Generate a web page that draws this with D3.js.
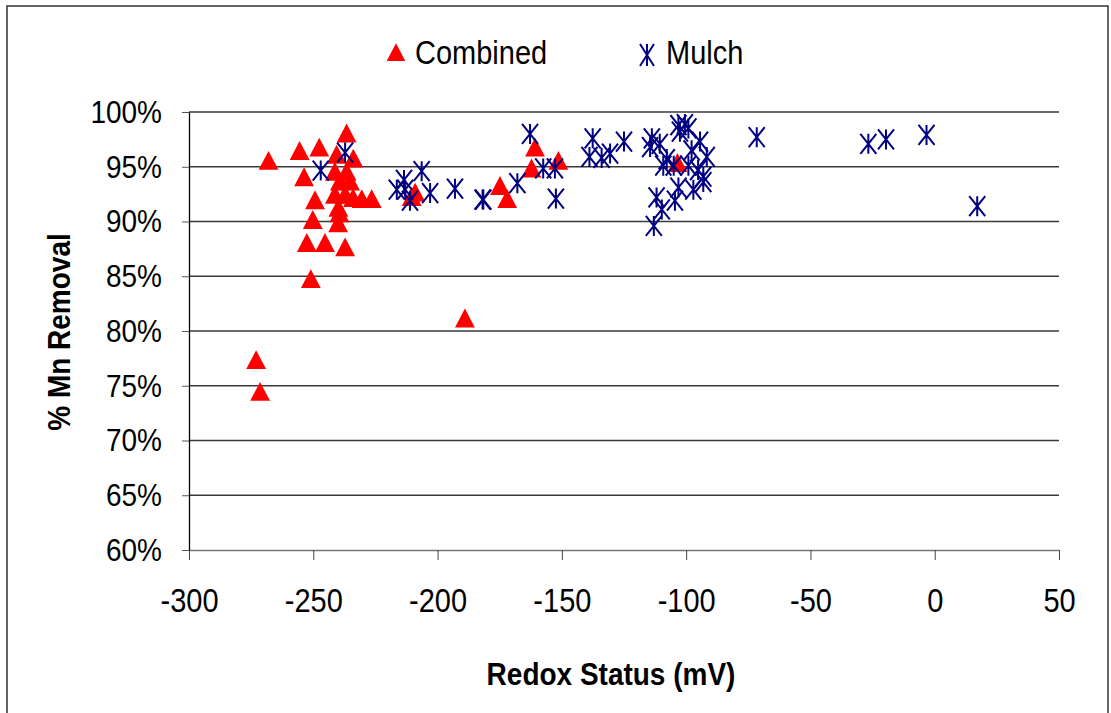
<!DOCTYPE html>
<html>
<head>
<meta charset="utf-8">
<script src="https://cdn.jsdelivr.net/npm/d3@7"></script>
<style>
  body { margin: 0; background: #fff; }
  text { font-family: "Liberation Sans", Arial, sans-serif; }
</style>
</head>
<body>
<div id="chart"></div>
<script>
// Combined (red triangles)
let combinedX = [-268, -255.5, -253.7, -247.6, -236.6, -249.3, -250.2, -252.6, -245.3, -237.2,
  -251, -273, -271.4, -189, -240.6, -233.9, -236.6, -241.3, -239.3, -235.2,
  -241.3, -230.5, -226.5, -237.2, -234, -239.9, -239.5, -240, -210.4, -209,
  -174.9, -172, -160.8, -162.2, -151.4, -103.5];
let combinedY = [95.3, 96.2, 93.8, 96.5, 97.8, 91.7, 89.9, 87.8, 87.8, 87.4,
  84.5, 77.1, 74.2, 80.9, 95.85, 95.5, 94.3, 94.3, 93.4, 93.4,
  92.2, 91.8, 91.8, 92.2, 91.9, 91.0, 90.5, 89.6, 92.0, 92.4,
  93.0, 91.8, 96.5, 94.6, 95.3, 95.1];

// Mulch (navy asterisks)
let mulchX = [-237.2, -247, -216.4, -213.5, -211.1, -206.4, -213, -203, -193, -181.6,
  -181.9, -167.9, -162.8, -157.5, -152.8, -152.4, -137.6, -138.9, -134, -130.6,
  -125, -113.8, -114.5, -110.6, -100.5, -99.1, -102.5, -103.1, -94.4, -97.8,
  -91.7, -107.8, -105, -109.2, -99.1, -95.2, -93.1, -93.1, -97.1, -103.1,
  -104.5, -111.9, -109.8, -113, -71.6, -26.7, -19.6, -3.3, 17.1];
let mulchY = [96.3, 94.65, 92.9, 93.8, 91.9, 94.6, 92.9, 92.6, 93.0, 92.0,
  92.0, 93.5, 98.0, 94.85, 94.85, 92.1, 97.6, 95.9, 95.8, 96.2,
  97.3, 97.6, 96.8, 97.1, 98.9, 98.5, 98.2, 98.8, 97.3, 96.5,
  95.9, 95.7, 95.1, 95.1, 95.1, 94.7, 94.1, 93.6, 92.9, 93.1,
  91.9, 92.2, 91.1, 89.6, 97.7, 97.1, 97.5, 97.9, 91.4];

let xTicks = [-300, -250, -200, -150, -100, -50, 0, 50];
let yTicks = [60, 65, 70, 75, 80, 85, 90, 95, 100];

let W = 1111, H = 713;
let plotL = 189, plotR = 1059, plotT = 112, plotB = 550;
let stretch = 'scale(1,1.15)';

let svg = d3.select('#chart').append('svg')
  .attr('width', W)
  .attr('height', H);

// outer chart frame
svg.append('rect')
  .attr('x', 7).attr('y', 6)
  .attr('width', 1101).attr('height', 720)
  .attr('fill', 'none')
  .attr('stroke', '#333')
  .attr('stroke-width', 1.5);

let x = d3.scaleLinear().domain([-300, 50]).range([plotL, plotR]);
let y = d3.scaleLinear().domain([60, 100]).range([plotB, plotT]);

// gridlines
svg.append('g')
  .selectAll('line')
  .data(yTicks.filter(d => d > 60))
  .enter()
  .append('line')
  .attr('x1', plotL).attr('x2', plotR)
  .attr('y1', d => y(d)).attr('y2', d => y(d))
  .attr('stroke', '#3a3a3a')
  .attr('stroke-width', 1.3);

// x axis (plain hyphen for negatives, like the original)
let xAxis = svg.append('g')
  .attr('transform', 'translate(0,' + plotB + ')')
  .call(d3.axisBottom(x).tickValues(xTicks).tickFormat(d => String(d))
    .tickSize(10).tickPadding(23).tickSizeOuter(0));
xAxis.select('.domain').attr('stroke', '#777').attr('stroke-width', 1.5);
xAxis.selectAll('.tick line').attr('stroke', '#444');
xAxis.selectAll('text')
  .attr('font-size', 29)
  .attr('fill', '#000')
  .attr('transform', stretch);

// y axis
let yAxis = svg.append('g')
  .attr('transform', 'translate(' + plotL + ',0)')
  .call(d3.axisLeft(y).tickValues(yTicks).tickFormat(d => d + '%').tickSize(7).tickPadding(20).tickSizeOuter(0));
yAxis.select('.domain').attr('stroke', '#000').attr('stroke-width', 1.3);
yAxis.selectAll('.tick line').attr('stroke', '#555');
yAxis.selectAll('text')
  .attr('font-size', 28)
  .attr('fill', '#000')
  .attr('transform', stretch);

// markers
let tri = d3.symbol().type(d3.symbolTriangle).size(170);
let combined = combinedX.map((d, i) => [d, combinedY[i]]);
let mulch = mulchX.map((d, i) => [d, mulchY[i]]);

svg.append('g')
  .selectAll('path')
  .data(combined)
  .enter()
  .append('path')
  .attr('d', tri)
  .attr('transform', d => 'translate(' + x(d[0]) + ',' + y(d[1]) + ') scale(1,1.1)')
  .attr('fill', '#ff0000');

function star(cx, cy) {
  let w = 8, h = 10;
  return 'M' + (cx - w) + ',' + (cy - h) + 'L' + (cx + w) + ',' + (cy + h) +
    'M' + (cx + w) + ',' + (cy - h) + 'L' + (cx - w) + ',' + (cy + h) +
    'M' + cx + ',' + (cy - h) + 'L' + cx + ',' + (cy + h);
}

svg.append('g')
  .selectAll('path')
  .data(mulch)
  .enter()
  .append('path')
  .attr('d', d => star(x(d[0]), y(d[1])))
  .attr('fill', 'none')
  .attr('stroke', '#000080')
  .attr('stroke-width', 2);

// legend
let legend = svg.append('g');
legend.append('path')
  .attr('d', d3.symbol().type(d3.symbolTriangle).size(150))
  .attr('transform', 'translate(396,55) scale(1,1.1)')
  .attr('fill', '#ff0000');
legend.append('path')
  .attr('d', 'M640,44L654,66M654,44L640,66M647,44L647,66')
  .attr('stroke', '#000080')
  .attr('stroke-width', 2)
  .attr('fill', 'none');

function label(px, py, txt, opts) {
  let g = svg.append('g').attr('transform', 'translate(' + px + ',' + py + ')' + (opts.rotate ? ' rotate(-90)' : ''));
  g.append('text')
    .attr('transform', stretch)
    .attr('text-anchor', opts.anchor || 'start')
    .attr('font-size', opts.size)
    .attr('font-weight', opts.bold ? 'bold' : 'normal')
    .text(txt);
}

label(415, 64, 'Combined', {size: 29});
label(666, 64, 'Mulch', {size: 29});

// axis titles
label(611, 685, 'Redox Status (mV)', {size: 28, bold: true, anchor: 'middle'});
label(70, 332, '% Mn Removal', {size: 28, bold: true, anchor: 'middle', rotate: true});
</script>
</body>
</html>
